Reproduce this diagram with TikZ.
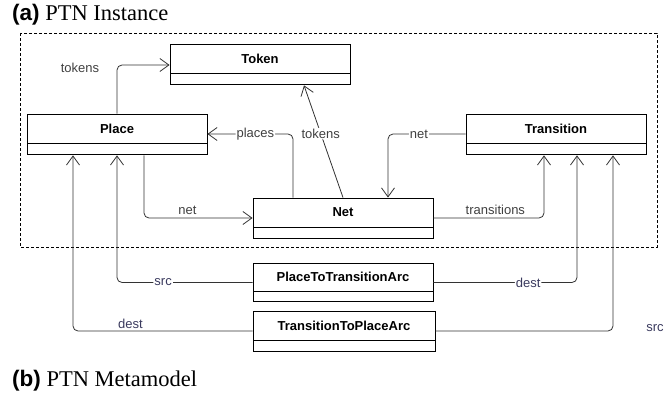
\documentclass[tikz,border=0pt]{standalone}
\usepackage{fontspec}
\setmainfont{Liberation Serif}
\setsansfont{Liberation Sans}
\usetikzlibrary{arrows.meta}
\definecolor{linegray}{HTML}{333333}
\definecolor{lblgray}{HTML}{404040}
\definecolor{lblnavy}{HTML}{3A3A5E}
\begin{document}
\begin{tikzpicture}[x=1pt,y=-1pt,
  cls/.style={draw=black, line width=0.9pt, minimum width=180pt, minimum height=29pt,
    inner sep=0pt, fill=white, font=\sffamily\bfseries\fontsize{13}{13}\selectfont},
  comp/.style={draw=black, line width=0.9pt, minimum width=180pt, minimum height=11pt,
    inner sep=0pt, fill=white, anchor=north},
  conn/.style={draw=linegray, line width=0.8pt, rounded corners=5pt,
    -{Straight Barb[length=9pt,width=13pt,line width=0.8pt]}},
  lbl/.style={font=\sffamily\fontsize{13}{13}\selectfont, text=lblgray, inner sep=1pt},
  lbln/.style={lbl, text=lblnavy},
  onl/.style={fill=white},
  title/.style={anchor=base west, inner sep=0pt, font=\fontsize{22.5}{22.5}\selectfont}
]
\useasboundingbox (0,0) rectangle (672,396);

% captions
\node[title] (capa) at (12,21) {{\sffamily\bfseries (a)} PTN Instance};
\node[title] (capb) at (12,386) {{\sffamily\bfseries (b)} PTN Metamodel};

% instance frame
\draw[line width=0.7pt, dash pattern=on 3pt off 2pt] (20,33) rectangle (657,247);

% classes: name compartment + empty attribute compartment
\node[cls] (token) at (260,58.5) {Token};
\node[comp] (tokenX) at (token.south) {};
\node[cls] (place) at (117,128.5) {Place};
\node[comp] (placeX) at (place.south) {};
\node[cls] (transition) at (556,128.5) {Transition};
\node[comp] (transitionX) at (transition.south) {};
\node[cls] (net) at (343,212.5) {Net};
\node[comp] (netX) at (net.south) {};
\node[cls, minimum height=28pt] (ptta) at (343,277) {PlaceToTransitionArc};
\node[comp, minimum height=10pt] (pttaX) at (ptta.south) {};
\node[cls, minimum width=182pt] (ttpa) at (344,325.5) {TransitionToPlaceArc};
\node[comp, minimum width=182pt] (ttpaX) at (ttpa.south) {};

% associations inside the instance
\draw[conn] (place.north) |- ([yshift=-6.5pt]token.west);
\node[lbl] (ltok1) at (80,68) {tokens};
\draw[conn] ([xshift=-50pt]net.north) |- node[lbl, onl, pos=0.72] {places} ([yshift=-5.5pt]place.east);
\draw[conn] (net.north) -- node[lbl, onl, pos=0.57] {tokens} ([xshift=44pt]tokenX.south);
\draw[conn] ([yshift=-5.5pt]transition.west) -| node[lbl, onl, pos=0.3] {net} ([xshift=45pt]net.north);
\draw[conn] ([xshift=27pt]placeX.south) |- node[lbl, pos=0.70, above=2pt] {net} ([yshift=-5.5pt]net.west);
\draw[conn] ([yshift=-5.5pt]net.east) -| node[lbl, pos=0.28, above=2pt] {transitions} ([xshift=-12pt]transitionX.south);

% arc classes
\draw[conn] ([yshift=-5.5pt]ptta.west) -| node[lbln, onl, pos=0.33] {src} (placeX.south);
\draw[conn] ([yshift=-5.5pt]ptta.east) -| node[lbln, onl, pos=0.33] {dest} ([xshift=21pt]transitionX.south);
\draw[conn] ([yshift=-5.5pt]ttpa.west) -| node[lbln, pos=0.34, above=1pt] {dest} ([xshift=-44pt]placeX.south);
\draw[conn] ([yshift=-5.5pt]ttpa.east) -| node[lbln, pos=0.5, anchor=west, xshift=32pt, yshift=3pt] {src} ([xshift=57pt]transitionX.south);
\end{tikzpicture}
\end{document}
